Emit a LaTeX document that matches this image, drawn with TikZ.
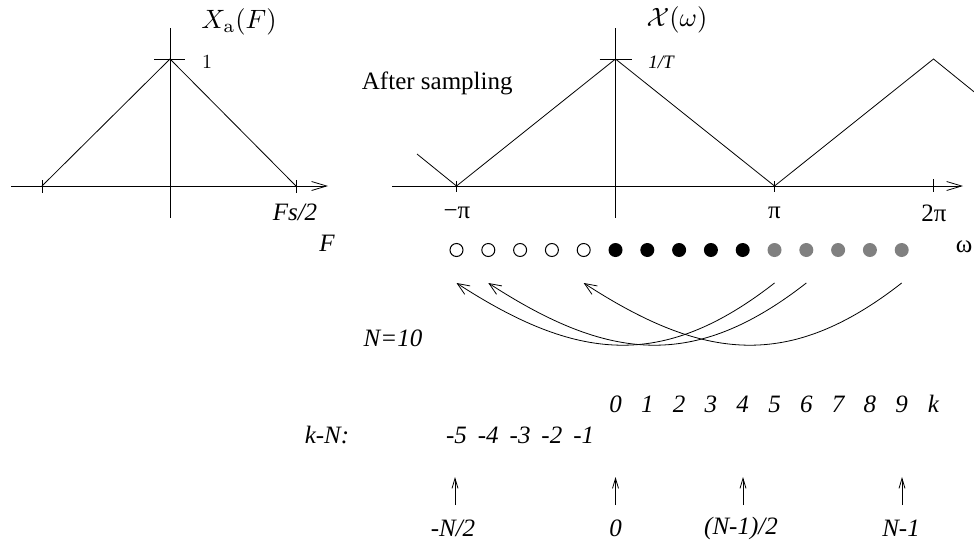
\documentclass[tikz,border=0pt]{standalone}
\usepackage[no-math]{fontspec}
\usepackage{graphicx}
\setmainfont{Liberation Serif}
\usetikzlibrary{arrows.meta,calc}
\definecolor{dotgray}{HTML}{808080}
\begin{document}
\begin{tikzpicture}[x=1pt,y=-1pt,line width=0.8pt,
  lbl/.style={inner sep=0pt,font=\fontsize{25}{30}\selectfont},
  mlbl/.style={inner sep=0pt,font=\fontsize{10}{12}\selectfont},
  ilbl/.style={inner sep=0pt,font=\fontsize{25}{30}\selectfont\itshape},
  axarrow/.style={-{Straight Barb[length=15pt,width=9pt]}},
  carrow/.style={-{Straight Barb[length=12pt,width=10pt]}},
  uparrow/.style={-{Straight Barb[length=10pt,width=6pt]}},
  opendot/.style={circle,draw,line width=1pt,minimum size=13pt,inner sep=0pt},
  fulldot/.style={circle,fill=black,minimum size=14pt,inner sep=0pt},
  graydot/.style={circle,fill=dotgray,minimum size=14pt,inner sep=0pt}]
\useasboundingbox (0,0) rectangle (974,542);
% ---------- left plot ----------
\coordinate (la0) at (11,186);
\coordinate (la1) at (328,186);
\coordinate (lv0) at (170,28);
\coordinate (lv1) at (170,218);
\coordinate (lp) at (170,59);
\coordinate (ll) at (42,186);
\coordinate (lr) at (296,186);
\draw[axarrow] (la0) -- (la1);
\draw (lv0) -- (lv1);
\draw (ll) -- (lp) -- (lr);
\draw ($(lp)+(-16,0)$) -- ($(lp)+(15,0)$);
\draw ($(ll)+(0,-6)$) -- ($(ll)+(0,7)$);
\draw ($(lr)+(0,-6)$) -- ($(lr)+(0,7)$);
\node[mlbl] (xa) at (239,22) {\scalebox{2.65}{$X_{\mathrm{a}}(F)$}};
\node[mlbl] (one) at (207,62) {\scalebox{2}{$1$}};
\node[ilbl] (fs) at (295,212) {Fs/2};
\node[ilbl] (fF) at (327,243) {F};
% ---------- right plot ----------
\coordinate (ra0) at (392,186);
\coordinate (ra1) at (963,186);
\coordinate (rv0) at (615.5,28);
\coordinate (rv1) at (615.5,218);
\coordinate (rp) at (615.5,59);
\coordinate (mpi) at (456.5,186);
\coordinate (ppi) at (774.5,186);
\coordinate (tpi) at (933.5,186);
\coordinate (tpk) at (933.5,59);
\coordinate (rs) at (417,154);
\coordinate (re) at (974,91.8);
\draw[axarrow] (ra0) -- (ra1);
\draw (rv0) -- (rv1);
\draw (rs) -- (mpi) -- (rp) -- (ppi) -- (tpk) -- (re);
\draw ($(rp)+(-16,0)$) -- ($(rp)+(16,0)$);
\draw ($(mpi)+(0,-5)$) -- ($(mpi)+(0,6)$);
\draw ($(ppi)+(0,-5)$) -- ($(ppi)+(0,6)$);
\draw ($(tpi)+(0,-7)$) -- ($(tpi)+(0,6)$);
\node[mlbl] (xw) at (677,20) {\scalebox{2.65}{$\mathcal{X}(\omega)$}};
\node[inner sep=0pt,font=\fontsize{19}{22}\selectfont\itshape] (oneT) at (661,62) {1/T};
\node[lbl,anchor=east] (after) at (513,83) {After sampling};
\node[lbl] (lmpi) at (457,213) {−π};
\node[lbl] (lppi) at (774.5,213) {π};
\node[lbl] (ltpi) at (934,213) {2π};
\node[lbl] (lw) at (964,247) {ω};
% ---------- dots ----------
\foreach \i in {0,...,4} \node[opendot] (d\i) at (456.5+\i*31.8,250) {};
\foreach \i in {5,...,9} \node[fulldot] (d\i) at (456.5+\i*31.8,250) {};
\foreach \i in {10,...,14} \node[graydot] (d\i) at (456.5+\i*31.8,250) {};
\foreach \i in {0,1,4,10,11,14} \coordinate (c\i) at ($(d\i)+(0,33)$);
\draw[carrow] (c10) to[out=218,in=-33,looseness=1.15] (c0);
\draw[carrow] (c11) to[out=218,in=-33,looseness=1.15] (c1);
\draw[carrow] (c14) to[out=218,in=-33,looseness=1.15] (c4);
\node[ilbl] (n10) at (393,338) {N=10};
% ---------- index rows ----------
\foreach \i in {0,...,9} {
  \pgfmathtruncatemacro{\j}{\i+5}
  \node[ilbl] (k\i) at ($(d\j)+(0,154)$) {\i};
}
\node[ilbl] (kk) at (933.5,404) {k};
\foreach \i/\v in {0/-5,1/-4,2/-3,3/-2,4/-1}
  \node[ilbl] (m\i) at ($(d\i)+(0,185)$) {\v};
\node[ilbl] (kn) at (327,435) {k-N:};
% ---------- bottom arrows ----------
\foreach \n/\x in {a/455,b/615.5,c/743,d/902} {
  \coordinate (u\n0) at (\x,505);
  \coordinate (u\n1) at (\x,477);
  \draw[uparrow] (u\n0) -- (u\n1);
}
\node[ilbl] (bl1) at (453,528) {-N/2};
\node[ilbl] (bl2) at (615.5,528) {0};
\node[ilbl] (bl3) at (741,528) {(N-1)/2};
\node[ilbl] (bl4) at (901,528) {N-1};
\end{tikzpicture}
\end{document}
